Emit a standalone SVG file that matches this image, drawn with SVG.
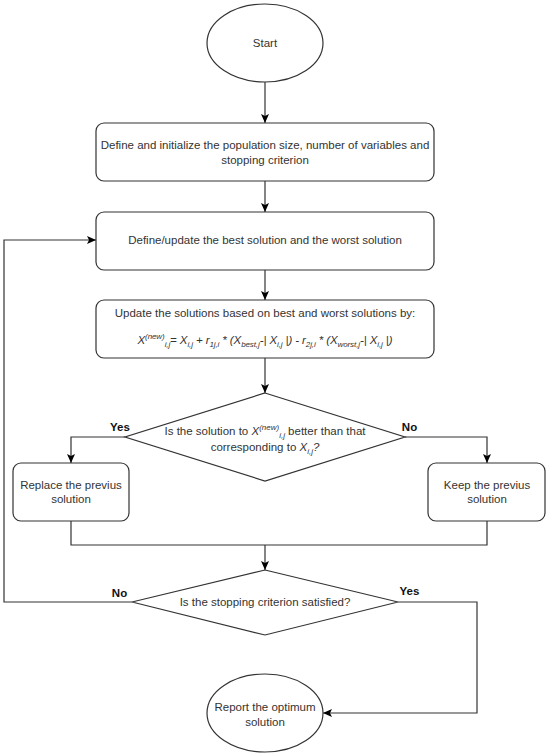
<svg xmlns="http://www.w3.org/2000/svg" width="550" height="756" viewBox="0 0 550 756">
<defs>
<marker id="arr" markerUnits="userSpaceOnUse" markerWidth="10" markerHeight="10" viewBox="0 0 10 10" refX="9" refY="5" orient="auto">
<path d="M0,1 L9,5 L0,9 L2,5 Z" fill="#000"/>
</marker>
<style>
.shape{fill:#fff;stroke:#333;stroke-width:1.2}
.edge{fill:none;stroke:#333;stroke-width:1.2}
.t{font-family:"Liberation Sans",Arial,sans-serif;font-size:11.5px;fill:#333;text-anchor:middle}
.lbl{font-family:"Liberation Sans",Arial,sans-serif;font-size:11.5px;font-weight:bold;fill:#111;text-anchor:middle}
.s{font-size:8px}
</style>
</defs>
<rect width="550" height="756" fill="#fff"/>
<g id="connectors">
<path class="edge" d="M265,82 L265,123" marker-end="url(#arr)"/>
<path class="edge" d="M265,181 L265,212" marker-end="url(#arr)"/>
<path class="edge" d="M265,270 L265,300" marker-end="url(#arr)"/>
<path class="edge" d="M265,358 L265,393" marker-end="url(#arr)"/>
<path class="edge" d="M125,437 L71,437 L71,463" marker-end="url(#arr)"/>
<path class="edge" d="M405,437 L487,437 L487,463" marker-end="url(#arr)"/>
<path class="edge" d="M71,521 L71,545 L487,545 L487,521"/>
<path class="edge" d="M265,545 L265,570" marker-end="url(#arr)"/>
<path class="edge" d="M132,602 L4,602 L4,240 L96,240" marker-end="url(#arr)"/>
<path class="edge" d="M398,602 L477,602 L477,713 L323,713" marker-end="url(#arr)"/>
<text class="lbl" x="120" y="431">Yes</text>
<text class="lbl" x="409.5" y="431">No</text>
<text class="lbl" x="119.5" y="597">No</text>
<text class="lbl" x="409.5" y="595">Yes</text>
</g>
<g id="start">
<ellipse class="shape" cx="265" cy="43" rx="58" ry="39"/>
<text class="t" x="265" y="47">Start</text>
</g>
<g id="init">
<rect class="shape" x="96" y="123" width="338" height="58" rx="8"/>
<text class="t" x="265" y="149">Define and initialize the population size, number of variables and</text>
<text class="t" x="265" y="164">stopping criterion</text>
</g>
<g id="define">
<rect class="shape" x="96" y="212" width="338" height="58" rx="8"/>
<text class="t" x="265" y="244">Define/update the best solution and the worst solution</text>
</g>
<g id="update">
<rect class="shape" x="96" y="300" width="338" height="58" rx="8"/>
<text class="t" x="265" y="317">Update the solutions based on best and worst solutions by:</text>
<text class="t" x="265" y="344" font-style="italic" font-size="10.8px" letter-spacing="-0.1">X<tspan class="s" font-size="7.5px" dy="-5">(new)</tspan><tspan class="s" font-size="7.5px" dy="8">i,j</tspan><tspan dy="-3">= X</tspan><tspan class="s" font-size="7.5px" dy="3">i,j</tspan><tspan dy="-3"> + r</tspan><tspan class="s" font-size="7.5px" dy="3">1j,i</tspan><tspan dy="-3"> * (X</tspan><tspan class="s" font-size="7.5px" dy="3">best,j</tspan><tspan dy="-3">-| X</tspan><tspan class="s" font-size="7.5px" dy="3">i,j</tspan><tspan dy="-3"> |) - r</tspan><tspan class="s" font-size="7.5px" dy="3">2j,i</tspan><tspan dy="-3"> * (X</tspan><tspan class="s" font-size="7.5px" dy="3">worst,j</tspan><tspan dy="-3">-| X</tspan><tspan class="s" font-size="7.5px" dy="3">i,j</tspan><tspan dy="-3"> |)</tspan></text>
</g>
<g id="decision1">
<polygon class="shape" points="265,393 405,437 265,481 125,437"/>
<text class="t" x="265" y="435">Is the solution to <tspan font-style="italic">X</tspan><tspan class="s" font-style="italic" dy="-5">(new)</tspan><tspan class="s" font-style="italic" dy="8">i,j</tspan><tspan dy="-3"> better than that</tspan></text>
<text class="t" x="265" y="451">corresponding to <tspan font-style="italic">X</tspan><tspan class="s" font-style="italic" dy="3">i,j</tspan><tspan font-style="italic" dy="-3">?</tspan></text>
</g>
<g id="replace">
<rect class="shape" x="13" y="463" width="116" height="58" rx="8"/>
<text class="t" x="71" y="489">Replace the previus</text>
<text class="t" x="71" y="503">solution</text>
</g>
<g id="keep">
<rect class="shape" x="428" y="463" width="117" height="58" rx="8"/>
<text class="t" x="487" y="489">Keep the previus</text>
<text class="t" x="487" y="503">solution</text>
</g>
<g id="decision2">
<polygon class="shape" points="265,570 398,602 265,635 132,602"/>
<text class="t" x="265" y="606">Is the stopping criterion satisfied?</text>
</g>
<g id="report">
<ellipse class="shape" cx="265" cy="713" rx="58" ry="39"/>
<text class="t" x="265" y="711">Report the optimum</text>
<text class="t" x="265" y="726">solution</text>
</g>
</svg>
